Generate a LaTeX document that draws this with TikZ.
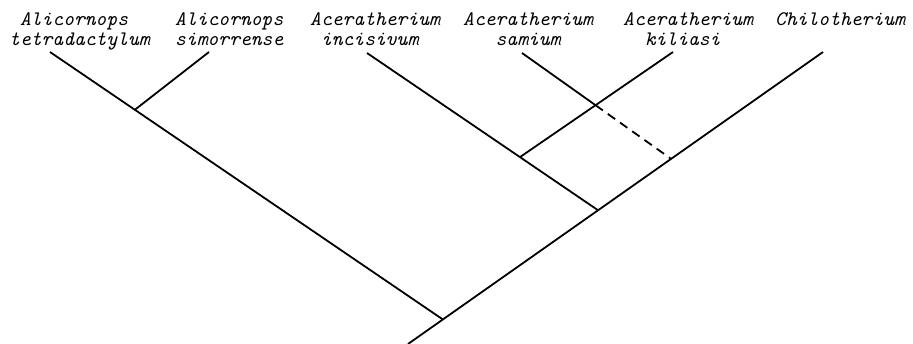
\documentclass[tikz,border=0pt]{standalone}
\usetikzlibrary{calc}

\begin{document}
\begin{tikzpicture}[x=1pt, y=-1pt,
    taxon/.style={anchor=north west, inner sep=0pt, align=left,
      font=\fontsize{20.6}{20}\selectfont\ttfamily\itshape},
    branch/.style={line width=1.8pt},
    uncertain/.style={branch, dash pattern=on 9pt off 6pt}]
    \useasboundingbox (0,0) rectangle (913,344);

    % Taxon names
    \node[taxon] (tetra) at (9,12.5) {\phantom{x}Alicornops\\tetradactylum};
    \node[taxon] (simo) at (175,12.5) {Alicornops\\simorrense};
    \node[taxon] (inci) at (310,12.5) {Aceratherium\\\phantom{x}incisivum};
    \node[taxon] (sami) at (463,12.5) {Aceratherium\\\phantom{xxx}samium};
    \node[taxon] (kili) at (623,12.5) {Aceratherium\\\phantom{xx}kiliasi};
    \node[taxon] (chilo) at (775,12.5) {Chilotherium};

    % Branch tips
    \coordinate (tipTetra) at (50,52);
    \coordinate (tipSimo) at (209,52);
    \coordinate (tipInci) at (367,53);
    \coordinate (tipSami) at (522,53);
    \coordinate (tipKili) at (673,52);
    \coordinate (tipChilo) at (823,52);
    \coordinate (base) at (408,344);

    % Internal nodes
    \coordinate (root) at ($(base)!0.084!(tipChilo)$);
    \coordinate (aceNode) at ($(base)!0.458!(tipChilo)$);
    \coordinate (samiNode) at ($(base)!0.634!(tipChilo)$);
    \coordinate (aliNode) at ($(tipTetra)!0.216!(root)$);
    \coordinate (kiliNode) at ($(tipInci)!0.662!(aceNode)$);
    \coordinate (cross) at (intersection of tipSami--samiNode and tipKili--kiliNode);

    % Tree
    \draw[branch] (base) -- (tipChilo);
    \draw[branch] (tipTetra) -- (root);
    \draw[branch] (tipSimo) -- (aliNode);
    \draw[branch] (tipInci) -- (aceNode);
    \draw[branch] (tipKili) -- (kiliNode);
    \draw[branch] (tipSami) -- (cross);
    \draw[uncertain] (cross) -- (samiNode);
\end{tikzpicture}
\end{document}
